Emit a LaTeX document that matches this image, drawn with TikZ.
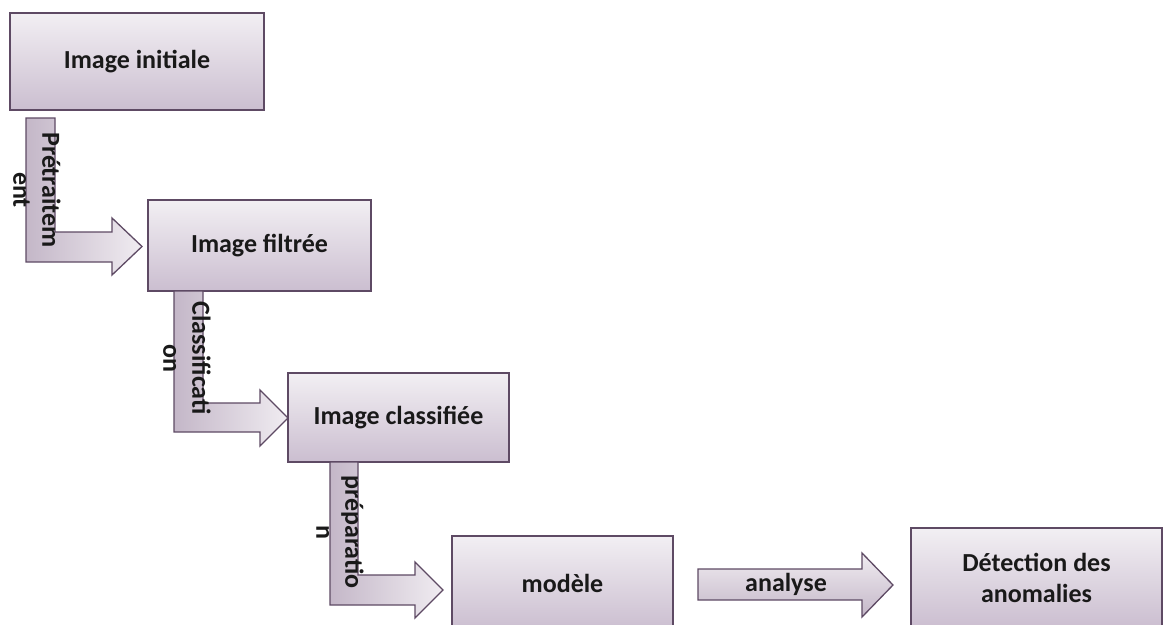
\documentclass[tikz,border=0pt]{standalone}
\usepackage{fontspec}
\setmainfont{Carlito}
\usepackage{xcolor}
\usepackage{tikz}

\definecolor{boxline}{HTML}{5E4A64}
\definecolor{boxtop}{HTML}{F2EFF3}
\definecolor{boxbot}{HTML}{CBBED0}
\definecolor{arrdark}{HTML}{C4B7C8}
\definecolor{arrlight}{HTML}{F0ECF1}

\begin{document}
\begin{tikzpicture}[x=1pt,y=-1pt,
	box/.style={draw=boxline, line width=1.5pt, top color=boxtop, bottom color=boxbot, text=black!90, font=\bfseries\fontsize{26}{31}\selectfont, align=center, inner sep=0pt},
	flow/.style={draw=boxline, line width=1.3pt, left color=arrdark, right color=arrlight},
	flatflow/.style={draw=boxline, line width=1.3pt, top color=arrlight, bottom color=arrdark},
	lab/.style={text=black!90, font=\bfseries\fontsize{26}{29}\selectfont, align=center, inner sep=0pt}]
			\clip (0,0) rectangle (1164,624);
			% boites
			\node[box, minimum width=254pt, minimum height=97pt] (init) at (137,61.5) {Image initiale};
			\node[box, minimum width=223pt, minimum height=91pt] (filt) at (259.5,245.5) {Image filtrée};
			\node[box, minimum width=221pt, minimum height=89pt] (class) at (398.5,417.5) {Image classifiée};
			\node[box, minimum width=221pt, minimum height=94pt] (mod) at (562.5,583) {modèle};
			\node[box, minimum width=251pt, minimum height=100pt] (detect) at (1036.5,578) {Détection des\\anomalies};
			% fleches coudees
			\draw[flow] (26,118) -- (55,118) -- (55,232) -- (112,232) -- (112,218) -- (142,246.5) -- (112,275) -- (112,262) -- (26,262) -- cycle;
			\draw[flow] (174,291) -- (203,291) -- (203,403) -- (260,403) -- (260,390) -- (288,418) -- (260,446) -- (260,432) -- (174,432) -- cycle;
			\draw[flow] (330,462) -- (358,462) -- (358,575) -- (415,575) -- (415,562) -- (443,590) -- (415,618) -- (415,605) -- (330,605) -- cycle;
			\draw[flatflow] (698,569) -- (862,569) -- (862,553) -- (893,585) -- (862,617) -- (862,600) -- (698,600) -- cycle;
			% textes des fleches
			\node[lab, rotate=-90] (pretr) at (37,190) {Prétraitem\\ent};
			\node[lab, rotate=-90] (classif) at (187,358) {Classificati\\on};
			\node[lab, rotate=-90] (prep) at (340,532) {préparatio\\n};
			\node[lab] (ana) at (786,584) {analyse};
		\end{tikzpicture}
\end{document}
